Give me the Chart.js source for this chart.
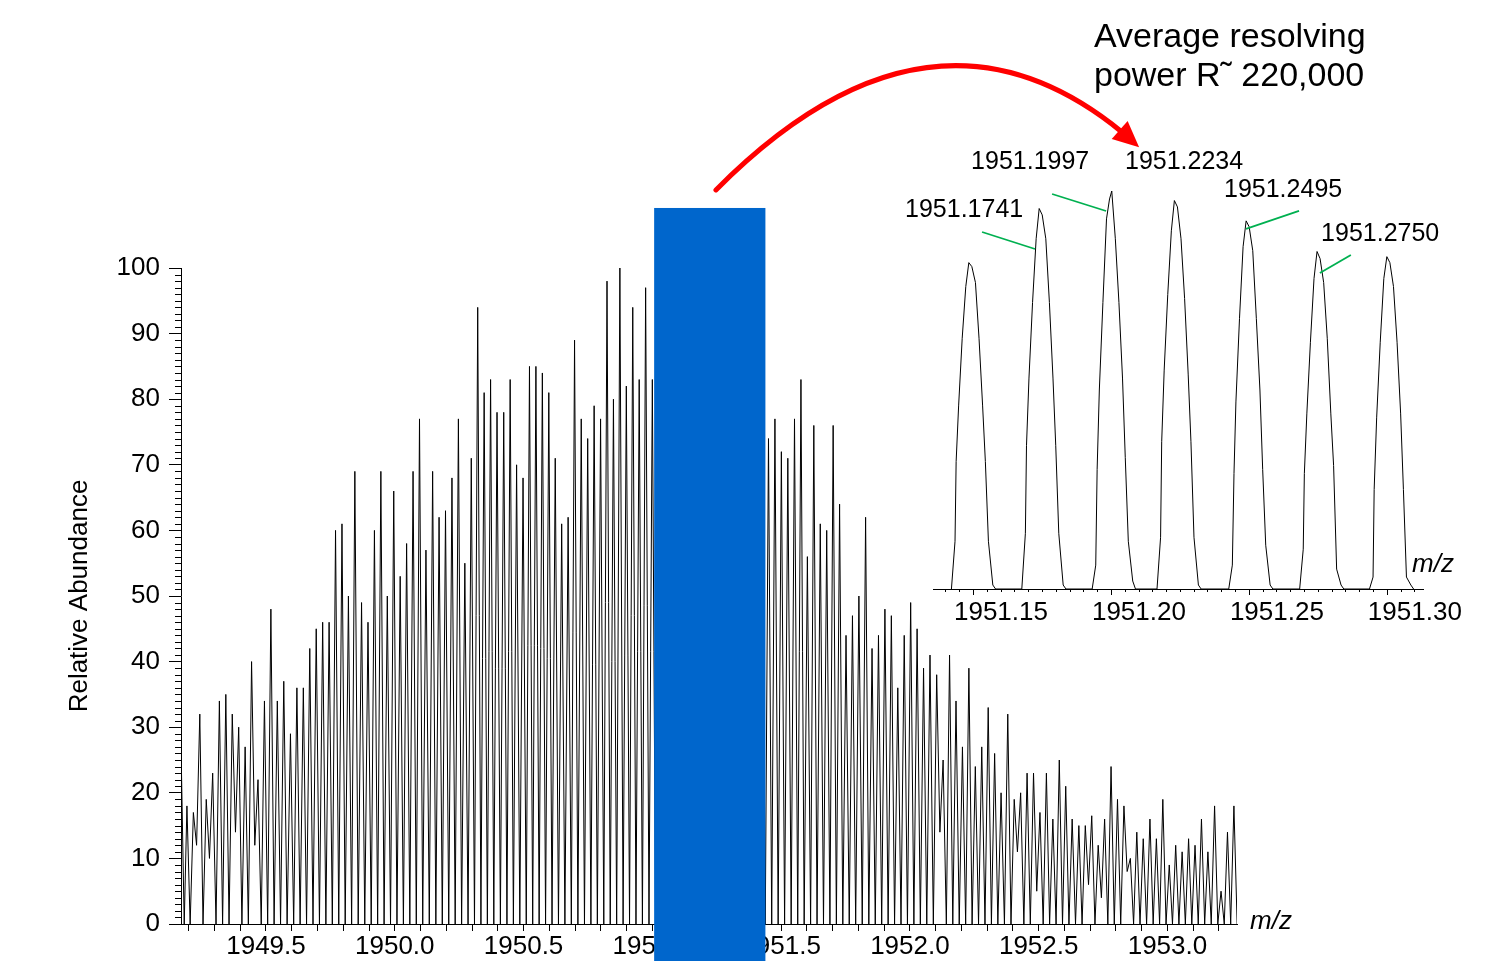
<!DOCTYPE html>
<html>
<head>
<meta charset="utf-8">
<script src="https://cdn.jsdelivr.net/npm/chart.js@4.4.0/dist/chart.umd.min.js"></script>
<style>
html,body{margin:0;padding:0;background:#fff;}
#wrap{position:relative;width:1491px;height:961px;overflow:hidden;background:#fff;}
#wrap canvas{position:absolute;left:0;top:0;}
</style>
</head>
<body>
<div id="wrap">
<canvas id="main" width="1491" height="961"></canvas>
<canvas id="inset" width="1491" height="961"></canvas>
</div>
<script>
// ---------------- DATA ----------------
// Main spectrum: isotope peak apexes (m/z) and their relative abundance
const peakMz = [
1949.172,1949.193,1949.218,1949.243,1949.268,1949.293,1949.319,1949.344,1949.369,1949.394,
1949.419,1949.444,1949.469,1949.494,1949.519,1949.544,1949.569,1949.595,1949.620,1949.645,
1949.670,1949.695,1949.720,1949.745,1949.770,1949.795,1949.820,1949.845,1949.871,1949.896,
1949.921,1949.946,1949.971,1949.996,1950.021,1950.046,1950.071,1950.096,1950.121,1950.147,
1950.172,1950.197,1950.222,1950.247,1950.272,1950.297,1950.322,1950.347,1950.372,1950.397,
1950.423,1950.448,1950.473,1950.498,1950.523,1950.548,1950.573,1950.598,1950.623,1950.648,
1950.673,1950.698,1950.724,1950.749,1950.774,1950.799,1950.824,1950.849,1950.874,1950.899,
1950.924,1950.949,1950.974,1951.000,1951.025,1951.050,1951.075,1951.100,1951.125,1951.150,
1951.175,1951.200,1951.225,1951.250,1951.276,1951.301,1951.326,1951.351,1951.376,1951.401,
1951.426,1951.451,1951.476,1951.501,1951.526,1951.552,1951.577,1951.602,1951.627,1951.652,
1951.677,1951.702,1951.727,1951.752,1951.777,1951.802,1951.828,1951.853,1951.878,1951.903,
1951.928,1951.953,1951.978,1952.003,1952.028,1952.053,1952.078,1952.104,1952.129,1952.154,
1952.179,1952.204,1952.229,1952.254,1952.279,1952.304,1952.329,1952.354,1952.380,1952.405,
1952.430,1952.455,1952.480,1952.505,1952.530,1952.555,1952.580,1952.605,1952.630,1952.656,
1952.681,1952.706,1952.731,1952.756,1952.781,1952.806,1952.831,1952.856,1952.881,1952.906,
1952.932,1952.957,1952.982,1953.007,1953.032,1953.057,1953.082,1953.107,1953.132,1953.157,
1953.183,1953.208,1953.233,1953.258
];
const peakAbund = [
23,18,17,32,19,23,34,35,32,30,
27,40,22,34,48,34,37,29,36,36,
42,45,46,46,60,61,50,69,49,46,
60,69,50,66,53,58,69,77,57,69,
62,63,68,77,55,71,94,81,83,78,
78,83,70,68,85,85,84,81,71,61,
62,89,77,74,79,77,98,80,100,82,
94,83,97,83,88,92,85,95,90,82,
95,98,96,92,85,84,88,80,84,78,
80,74,77,72,71,77,83,56,76,61,
60,76,64,44,47,50,62,42,44,48,
47,36,44,49,45,39,41,38,25,41,
34,27,39,24,27,33,26,20,32,19,
20,23,23,17,23,16,25,21,16,15,
15,16.5,12,16,24,19,18,10,14,13,
16,13,19,9,12,11,13,12,16,11,
18,5,14,18
];
// abundance of the valley that follows each peak
const valleyAbund = [
0,0,12,0,10,0,0,0,14,0,
0,12,0,0,0,0,0,0,0,0,
0,0,0,0,0,0,0,0,0,0,
0,0,0,0,0,0,0,0,0,0,
0,0,0,0,0,0,0,0,0,0,
0,0,0,0,0,0,0,0,0,0,
0,0,0,0,0,0,0,0,0,0,
0,0,0,0,0,0,0,0,0,0,
0,0,0,0,0,0,0,0,0,0,
0,0,0,0,0,0,0,0,0,0,
0,0,0,0,0,0,0,0,0,0,
0,0,0,0,0,0,0,14,0,0,
0,0,0,0,0,0,0,0,0,11,
0,0,5,0,0,0,0,0,0,0,
6,0,4,0,0,0,8,0,0,0,
0,0,0,0,0,0,0,0,0,0,
0,0,0,0
];
const mainTickLabels = ['1949.5','1950.0','1950.5','1951.0','1951.5','1952.0','1952.5','1953.0'];
const yTickLabels = [0,10,20,30,40,50,60,70,80,90,100];

// Inset: high-resolution profile of the isotope cluster
const insetMz = [
1951.1422,1951.1435,1951.1439,1951.1448,1951.1461,1951.1474,1951.1485,1951.1496,1951.1509,1951.1522,1951.1535,1951.1545,1951.1556,1951.1572,1951.1582,
1951.1677,1951.1690,1951.1694,1951.1703,1951.1716,1951.1729,1951.1740,1951.1751,1951.1764,1951.1777,1951.1790,1951.1800,1951.1811,1951.1827,1951.1837,
1951.1932,1951.1945,1951.1950,1951.1958,1951.1971,1951.1984,1951.1995,1951.2003,1951.2016,1951.2029,1951.2042,1951.2052,1951.2063,1951.2079,1951.2089,
1951.2167,1951.2180,1951.2184,1951.2193,1951.2206,1951.2219,1951.2230,1951.2241,1951.2254,1951.2267,1951.2280,1951.2290,1951.2301,1951.2317,1951.2327,
1951.2427,1951.2440,1951.2446,1951.2453,1951.2466,1951.2479,1951.2490,1951.2501,1951.2514,1951.2527,1951.2540,1951.2550,1951.2561,1951.2577,1951.2587,
1951.2684,1951.2697,1951.2701,1951.2710,1951.2723,1951.2736,1951.2747,1951.2758,1951.2771,1951.2784,1951.2797,1951.2807,1951.2818,1951.2834,1951.2844,
1951.2937,1951.2950,1951.2954,1951.2963,1951.2976,1951.2989,1951.3000,1951.3011,1951.3024,1951.3037,1951.3050,1951.3060,1951.3071,1951.3087,1951.3097
];
const insetAbund = [
0,12,32,46,63,76,82,81,77,63,46,32,12,1,0,
0,14,36,53,72,88,95.6,94,88,72,53,36,14,1,0,
0,6,30,50,72,93,98,100,88,72,53,33,12,2,0,
0,13,37,55,74,90,97.6,96,88,73,54,37,13,1,0,
0,6,29,47,68,86,92.5,91,85,68,50,30,11,1,0,
0,10,29,44,62,78,84.8,83,77,63,44,31,5,1,0,
0,3,25,43,62,78,83.5,82,76,62,44,25,3,1,0
];
const insetTickLabels = ['1951.15','1951.20','1951.25','1951.30'];
const insetLabelMz = [1951.1741, 1951.1997, 1951.2234, 1951.2495, 1951.2750];

// Highlighted window (m/z range) on the main spectrum
const zoomWindow = [1951.007, 1951.439];
const titleLines = ['Average resolving', 'power R\u02DC 220,000'];

// ---------------- LAYOUT / STYLE ----------------
const FONT = '"Liberation Sans", Arial, Helvetica, sans-serif';
Chart.defaults.font.family = FONT;
Chart.defaults.color = '#000';
const W = 1491, H = 961;
const MAIN = {left: 181, right: 1237, top: 268, bottom: 924};
const INSET = {left: 933.5, right: 1423, top: 191, bottom: 589};
const zoomWindowTop = 109.15;              // abundance units above the axis
const arrowGeom = {start: [1951.247, 111.9], ctrl: [1952.078, 144.7], end: [1952.824, 120.7], tip: [1952.890, 118.4]};
const labelOffsets = [[-134.4, 1.5], [-139, -29], [-50.5, -38.6], [-23.5, -30.8], [3.2, -17.5]];
const leaderOffsets = [[-57.4, 23.5, -4.4, 40.5], [-58, 3, -4, 20], null, [51.5, -10, -1.5, 8], [33, 3.5, 2, 21.5]];

// ---------------- BUILD MAIN ----------------
const mainPoints = [];
for (let i = 0; i < peakMz.length; i++) {
  mainPoints.push({x: peakMz[i], y: peakAbund[i]});
  const nextMz = i + 1 < peakMz.length ? peakMz[i + 1] : 2 * peakMz[i] - peakMz[i - 1];
  mainPoints.push({x: (peakMz[i] + nextMz) / 2, y: valleyAbund[i]});
}
const mainXTicks = [];
for (let k = 0; k <= 40; k++) mainXTicks.push(+(1949.2 + k * 0.1).toFixed(1));

const mainDecor = {
  id: 'mainDecor',
  afterDraw(chart) {
    const {ctx, chartArea: ca} = chart;
    const xs = chart.scales.x, ys = chart.scales.y;
    ctx.save();
    ctx.strokeStyle = '#000';
    ctx.lineWidth = 1;
    ctx.beginPath();
    for (let v = 0; v <= 100; v++) {
      if (v % 10 === 0) continue;
      const py = Math.round(ys.getPixelForValue(v)) + 0.5;
      ctx.moveTo(ca.left - 6, py);
      ctx.lineTo(ca.left, py);
    }
    ctx.stroke();
    ctx.fillStyle = '#000';
    ctx.font = 'italic 26px ' + FONT;
    ctx.textAlign = 'left';
    ctx.textBaseline = 'middle';
    ctx.fillText('m/z', ca.right + 13, ca.bottom - 2);
    // highlighted window
    const rx0 = xs.getPixelForValue(zoomWindow[0]);
    const rx1 = xs.getPixelForValue(zoomWindow[1]);
    const ry = ys.getPixelForValue(zoomWindowTop);
    ctx.fillStyle = '#0066CC';
    ctx.fillRect(rx0, ry, rx1 - rx0, chart.height - ry);
    // red arrow
    const P = (p) => [xs.getPixelForValue(p[0]), ys.getPixelForValue(p[1])];
    const s = P(arrowGeom.start), c = P(arrowGeom.ctrl), e = P(arrowGeom.end), t = P(arrowGeom.tip);
    ctx.strokeStyle = '#FF0000';
    ctx.lineWidth = 5;
    ctx.lineCap = 'round';
    ctx.beginPath();
    ctx.moveTo(s[0], s[1]);
    ctx.quadraticCurveTo(c[0], c[1], e[0], e[1]);
    ctx.stroke();
    const dx = t[0] - e[0], dy = t[1] - e[1];
    const len = Math.hypot(dx, dy);
    const ux = dx / len, uy = dy / len;
    const bx = t[0] - ux * 26, by = t[1] - uy * 26;
    ctx.fillStyle = '#FF0000';
    ctx.beginPath();
    ctx.moveTo(t[0], t[1]);
    ctx.lineTo(bx - uy * 12, by + ux * 12);
    ctx.lineTo(bx + uy * 12, by - ux * 12);
    ctx.closePath();
    ctx.fill();
    ctx.restore();
  }
};

new Chart(document.getElementById('main'), {
  type: 'line',
  data: {datasets: [{data: mainPoints, borderColor: '#000', borderWidth: 1, pointRadius: 0, tension: 0, fill: false}]},
  options: {
    responsive: false, animation: false, devicePixelRatio: 1,
    parsing: false, normalized: true,
    layout: {padding: {left: 0, right: W - MAIN.right, top: MAIN.top, bottom: 0}},
    plugins: {legend: {display: false}, tooltip: {enabled: false}},
    events: [],
    scales: {
      x: {
        type: 'linear', min: 1949.17, max: 1953.27,
        afterFit(s) { s.height = H - MAIN.bottom; },
        afterBuildTicks(s) { s.ticks = mainXTicks.map(v => ({value: v})); },
        ticks: {
          autoSkip: false, maxRotation: 0, minRotation: 0, padding: 0,
          font: {size: 26, family: FONT}, color: '#000',
          callback(v) { const str = v.toFixed(1); return (Math.abs(v - parseFloat(str)) < 1e-6 && mainTickLabels.includes(str)) ? str : ''; }
        },
        grid: {drawOnChartArea: false, drawTicks: true, tickLength: 7, tickColor: '#000', tickWidth: 1},
        border: {display: true, color: '#000', width: 1}
      },
      y: {
        type: 'linear', min: 0, max: 100,
        afterFit(s) { s.width = MAIN.left; },
        afterBuildTicks(s) { s.ticks = yTickLabels.map(v => ({value: v})); },
        ticks: {padding: 9, font: {size: 26, family: FONT}, color: '#000'},
        grid: {drawOnChartArea: false, drawTicks: true, tickLength: 12, tickColor: '#000', tickWidth: 1},
        border: {display: true, color: '#000', width: 1},
        title: {display: true, text: 'Relative Abundance', color: '#000', font: {size: 26, family: FONT}, padding: {top: 64, bottom: 0}}
      }
    }
  },
  plugins: [mainDecor]
});

// ---------------- BUILD INSET ----------------
const insetPoints = insetMz.map((m, i) => ({x: m, y: insetAbund[i]}));
const insetXTicks = [];
for (let k = 0; k <= 34; k++) insetXTicks.push(+(1951.14 + k * 0.005).toFixed(3));
const isInsetMajor = (v) => { const str = v.toFixed(2); return Math.abs(v - parseFloat(str)) < 1e-6 && insetTickLabels.includes(str); };

const insetDecor = {
  id: 'insetDecor',
  afterDraw(chart) {
    const {ctx, chartArea: ca} = chart;
    const xs = chart.scales.x, ys = chart.scales.y;
    ctx.save();
    ctx.strokeStyle = '#000';
    ctx.lineWidth = 1;
    ctx.beginPath();
    xs.ticks.forEach(t => {
      const px = Math.round(xs.getPixelForValue(t.value)) + 0.5;
      const l = isInsetMajor(t.value) ? 6 : 3;
      ctx.moveTo(px, ca.bottom);
      ctx.lineTo(px, ca.bottom + l);
    });
    ctx.stroke();
    ctx.fillStyle = '#000';
    ctx.font = 'italic 26px ' + FONT;
    ctx.textAlign = 'left';
    ctx.textBaseline = 'middle';
    ctx.fillText('m/z', ca.right - 11, ca.bottom - 24);
    // peak labels with leader lines
    ctx.font = '25px ' + FONT;
    insetLabelMz.forEach((mz, i) => {
      let h = 0;
      insetMz.forEach((m, j) => { if (Math.abs(m - mz) < 0.004) h = Math.max(h, insetAbund[j]); });
      const ax = xs.getPixelForValue(mz), ay = ys.getPixelForValue(h);
      const lo = leaderOffsets[i];
      if (lo) {
        ctx.strokeStyle = '#00B050';
        ctx.lineWidth = 1.8;
        ctx.beginPath();
        ctx.moveTo(ax + lo[0], ay + lo[1]);
        ctx.lineTo(ax + lo[2], ay + lo[3]);
        ctx.stroke();
      }
      ctx.fillStyle = '#000';
      ctx.textAlign = 'left';
      ctx.textBaseline = 'middle';
      ctx.fillText(mz.toFixed(4), ax + labelOffsets[i][0], ay + labelOffsets[i][1]);
    });
    // annotation text
    ctx.font = '34px ' + FONT;
    ctx.textBaseline = 'alphabetic';
    ctx.textAlign = 'left';
    ctx.fillText(titleLines[0], 1094, 47);
    ctx.fillText(titleLines[1], 1094, 86);
    ctx.restore();
  }
};

new Chart(document.getElementById('inset'), {
  type: 'line',
  data: {datasets: [{data: insetPoints, borderColor: '#000', borderWidth: 1, pointRadius: 0, tension: 0, fill: false}]},
  options: {
    responsive: false, animation: false, devicePixelRatio: 1,
    parsing: false, normalized: true,
    layout: {padding: {left: INSET.left, right: W - INSET.right, top: INSET.top, bottom: 0}},
    plugins: {legend: {display: false}, tooltip: {enabled: false}},
    events: [],
    scales: {
      x: {
        type: 'linear', min: 1951.1357, max: 1951.3131,
        afterFit(s) { s.height = H - INSET.bottom; },
        afterBuildTicks(s) { s.ticks = insetXTicks.map(v => ({value: v})); },
        ticks: {
          autoSkip: false, maxRotation: 0, minRotation: 0, padding: 8, labelOffset: 28,
          font: {size: 26, family: FONT}, color: '#000',
          callback(v) { return isInsetMajor(v) ? v.toFixed(2) : ''; }
        },
        grid: {drawOnChartArea: false, drawTicks: false},
        border: {display: true, color: '#000', width: 1}
      },
      y: {type: 'linear', min: 0, max: 100, display: false}
    }
  },
  plugins: [insetDecor]
});
</script>
</body>
</html>
